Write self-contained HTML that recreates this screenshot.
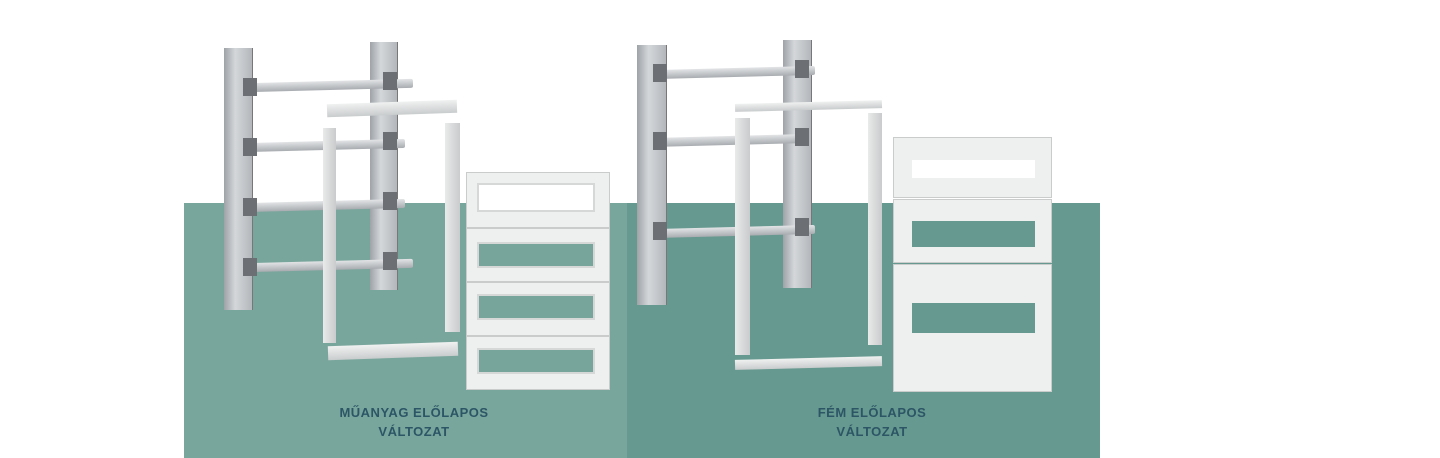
<!DOCTYPE html>
<html><head><meta charset="utf-8"><style>
body{margin:0;width:1440px;height:458px;background:#fff;position:relative;overflow:hidden;font-family:"Liberation Sans",sans-serif}
div{position:absolute;box-sizing:border-box}
.rail{background:linear-gradient(90deg,#9ea3a8,#d4d7da 40%,#b3b7bb);border-right:1px solid #777}
.din{background:linear-gradient(#e2e4e6,#a8acb0);height:9px;border-radius:2px}
.clip{background:#6c7075;width:14px;height:18px}
.bar{background:linear-gradient(#f0f1f1,#c9cccd)}
.strip{background:linear-gradient(90deg,#e9eaea,#c9cbcc)}
.fp{background:#eef0ef;border:1px solid #c9cccb}
.win{background:#78a59b;border:2px solid #d5d8d7}
.lbl{color:#2c5566;font-weight:bold;font-size:13px;text-align:center;line-height:19px;letter-spacing:.5px}
</style></head><body>
<div style="left:184px;top:203px;width:443px;height:255px;background:#79a69c"></div>
<div style="left:627px;top:203px;width:473px;height:255px;background:#66998f"></div>

<!-- left assembly -->
<div class="rail" style="left:224px;top:48px;width:29px;height:262px"></div>
<div class="rail" style="left:370px;top:42px;width:28px;height:248px"></div>
<div class="din" style="left:245px;top:81px;width:168px;transform:rotate(-1.5deg)"></div>
<div class="din" style="left:245px;top:141px;width:160px;transform:rotate(-1.5deg)"></div>
<div class="din" style="left:245px;top:201px;width:160px;transform:rotate(-1.5deg)"></div>
<div class="din" style="left:245px;top:261px;width:168px;transform:rotate(-1.5deg)"></div>
<div class="clip" style="left:243px;top:78px"></div><div class="clip" style="left:383px;top:72px"></div>
<div class="clip" style="left:243px;top:138px"></div><div class="clip" style="left:383px;top:132px"></div>
<div class="clip" style="left:243px;top:198px"></div><div class="clip" style="left:383px;top:192px"></div>
<div class="clip" style="left:243px;top:258px"></div><div class="clip" style="left:383px;top:252px"></div>
<div class="bar" style="left:327px;top:102px;width:130px;height:13px;transform:rotate(-2deg)"></div>
<div class="strip" style="left:323px;top:128px;width:13px;height:215px"></div>
<div class="strip" style="left:445px;top:123px;width:15px;height:209px"></div>
<div class="bar" style="left:328px;top:344px;width:130px;height:14px;transform:rotate(-2deg)"></div>
<div class="fp" style="left:466px;top:172px;width:144px;height:56px"></div>
<div class="win" style="left:477px;top:183px;width:118px;height:29px;background:#fff"></div>
<div class="fp" style="left:466px;top:228px;width:144px;height:54px"></div>
<div class="win" style="left:477px;top:242px;width:118px;height:26px"></div>
<div class="fp" style="left:466px;top:282px;width:144px;height:54px"></div>
<div class="win" style="left:477px;top:294px;width:118px;height:26px"></div>
<div class="fp" style="left:466px;top:336px;width:144px;height:54px"></div>
<div class="win" style="left:477px;top:348px;width:118px;height:26px"></div>
<div class="lbl" style="left:314px;top:403px;width:200px">MŰANYAG ELŐLAPOS<br>VÁLTOZAT</div>

<!-- right assembly -->
<div class="rail" style="left:637px;top:45px;width:30px;height:260px"></div>
<div class="rail" style="left:783px;top:40px;width:29px;height:248px"></div>
<div class="din" style="left:655px;top:68px;width:160px;transform:rotate(-1.5deg)"></div>
<div class="din" style="left:655px;top:136px;width:150px;transform:rotate(-1.5deg)"></div>
<div class="din" style="left:655px;top:227px;width:160px;transform:rotate(-1.5deg)"></div>
<div class="clip" style="left:653px;top:64px"></div><div class="clip" style="left:795px;top:60px"></div>
<div class="clip" style="left:653px;top:132px"></div><div class="clip" style="left:795px;top:128px"></div>
<div class="clip" style="left:653px;top:222px"></div><div class="clip" style="left:795px;top:218px"></div>
<div class="bar" style="left:735px;top:102px;width:147px;height:8px;transform:rotate(-1.5deg)"></div>
<div class="strip" style="left:735px;top:118px;width:15px;height:237px"></div>
<div class="strip" style="left:868px;top:113px;width:14px;height:232px"></div>
<div class="bar" style="left:735px;top:358px;width:147px;height:10px;transform:rotate(-1.5deg)"></div>
<div class="fp" style="left:893px;top:137px;width:159px;height:61px"></div>
<div style="left:912px;top:160px;width:123px;height:18px;background:#fff"></div>
<div class="fp" style="left:893px;top:199px;width:159px;height:64px"></div>
<div style="left:912px;top:221px;width:123px;height:26px;background:#66998f"></div>
<div class="fp" style="left:893px;top:264px;width:159px;height:128px"></div>
<div style="left:912px;top:303px;width:123px;height:30px;background:#66998f"></div>
<div class="lbl" style="left:772px;top:403px;width:200px">FÉM ELŐLAPOS<br>VÁLTOZAT</div>
</body></html>
